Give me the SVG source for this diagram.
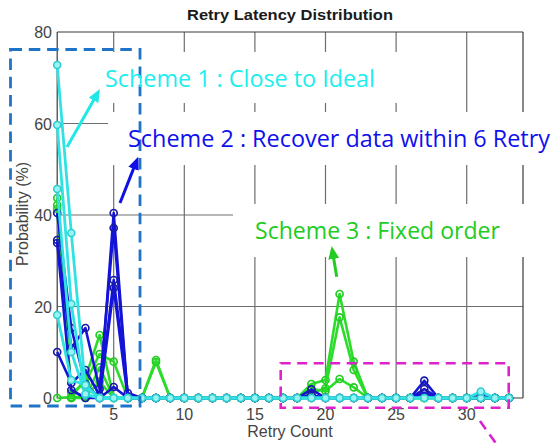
<svg xmlns="http://www.w3.org/2000/svg" width="555" height="444" viewBox="0 0 555 444">
<style>
.grid{stroke:#6e6e6e;stroke-width:1.2;fill:none}
.axis{stroke:#3a3a3a;stroke-width:1.2;fill:none}
.tick{font-family:"Liberation Sans",Arial,sans-serif;font-size:16px;fill:#444}
.ttl{font-family:"Liberation Sans",Arial,sans-serif;font-size:15.5px;font-weight:bold;fill:#1a1a1a}
.c{fill:none;stroke:#30e2e2;stroke-width:2.8;stroke-linejoin:round;marker-start:url(#mc);marker-mid:url(#mc);marker-end:url(#mc)}
.b{fill:none;stroke:#1414d6;stroke-width:2.6;stroke-linejoin:round;marker-start:url(#mb);marker-mid:url(#mb);marker-end:url(#mb)}
.g{fill:none;stroke:#2bdc2b;stroke-width:2.6;stroke-linejoin:round;marker-start:url(#mg);marker-mid:url(#mg);marker-end:url(#mg)}
.lbl{font-family:"Open Sans","Noto Sans",sans-serif;font-size:23px}
.arr{fill:none;stroke-width:3}
</style>
<defs>
<marker id="mc" markerUnits="userSpaceOnUse" viewBox="-5 -5 10 10" markerWidth="10" markerHeight="10" refX="0" refY="0"><circle r="3.5" fill="#9cf3f3" stroke="#2ccfcf" stroke-width="1.6"/></marker>
<marker id="mb" markerUnits="userSpaceOnUse" viewBox="-5 -5 10 10" markerWidth="10" markerHeight="10" refX="0" refY="0"><circle r="3.5" fill="none" stroke="#1a1aa8" stroke-width="1.7"/></marker>
<marker id="mg" markerUnits="userSpaceOnUse" viewBox="-5 -5 10 10" markerWidth="10" markerHeight="10" refX="0" refY="0"><circle r="3.5" fill="none" stroke="#22cc22" stroke-width="1.7"/></marker>
<marker id="ac" markerUnits="userSpaceOnUse" viewBox="0 0 13 11" markerWidth="13" markerHeight="11" refX="9" refY="5.5" orient="auto"><path d="M0,0 L13,5.5 L0,11 z" fill="#1ee8e8"/></marker>
<marker id="ab" markerUnits="userSpaceOnUse" viewBox="0 0 13 11" markerWidth="13" markerHeight="11" refX="9" refY="5.5" orient="auto"><path d="M0,0 L13,5.5 L0,11 z" fill="#1010e6"/></marker>
<marker id="ag" markerUnits="userSpaceOnUse" viewBox="0 0 13 11" markerWidth="13" markerHeight="11" refX="9" refY="5.5" orient="auto"><path d="M0,0 L13,5.5 L0,11 z" fill="#22cc22"/></marker>
</defs>
<rect width="555" height="444" fill="#fff"/>

<g id="axes">
<path class="grid" d="M113.7,32V52M113.7,103V112M113.7,165V398 M184.3,32V52M184.3,103V112M184.3,165V398 M254.9,32V52M254.9,103V112M254.9,165V204M254.9,257V398 M325.5,32V52M325.5,103V112M325.5,165V204M325.5,257V398 M396.1,32V52M396.1,103V112M396.1,165V204M396.1,257V398 M466.7,32V112M466.7,165V204M466.7,257V398 M57.2,123.5H108 M57.2,215H233 M57.2,306.5H523"/>
<path class="axis" d="M523,32V112M523,165V204M523,257V398 M57.2,32H523 M57.2,32V398H523"/>
<text class="ttl" x="290" y="20" text-anchor="middle" textLength="206" lengthAdjust="spacingAndGlyphs">Retry Latency Distribution</text>
<g class="tick" text-anchor="end">
<text x="52" y="38">80</text>
<text x="52" y="129.5">60</text>
<text x="52" y="221">40</text>
<text x="52" y="312.5">20</text>
<text x="52" y="404">0</text>
</g>
<g class="tick" text-anchor="middle">
<text x="113.7" y="420">5</text>
<text x="184.3" y="420">10</text>
<text x="254.9" y="420">15</text>
<text x="325.5" y="420">20</text>
<text x="396.1" y="420">25</text>
<text x="466.7" y="420">30</text>
<text x="290" y="437">Retry Count</text>
<text transform="translate(28,214) rotate(-90)">Probability (%)</text>
</g>
</g>

<g id="series">
<polyline class="g" points="57.2,198 71.3,398 85.4,378 99.6,335 113.7,398 127.8,398 141.9,398 156,360 170.2,398 184.3,398 198.4,398 212.5,398 226.6,398 240.8,398 254.9,398 269,398 283.1,398 297.2,398 311.4,384 325.5,380 339.6,294 353.7,361.7 367.8,398 382,398 396.1,398 410.2,398 424.3,398 438.4,398 452.6,398 466.7,398 480.8,398 494.9,398 509,398"/>
<polyline class="g" points="57.2,205 71.3,393 85.4,383 99.6,354 113.7,361.7 127.8,398 141.9,398 156,398 170.2,398 184.3,398 198.4,398 212.5,398 226.6,398 240.8,398 254.9,398 269,398 283.1,398 297.2,398 311.4,393 325.5,388.3 339.6,317.3 353.7,370 367.8,398 382,398 396.1,398 410.2,398 424.3,398 438.4,398 452.6,398 466.7,398 480.8,398 494.9,398 509,398"/>
<polyline class="g" points="57.2,209 71.3,398 85.4,398 99.6,367.3 113.7,398 127.8,398 141.9,398 156,362 170.2,398 184.3,398 198.4,398 212.5,398 226.6,398 240.8,398 254.9,398 269,398 283.1,398 297.2,398 311.4,389 325.5,391 339.6,379 353.7,387.3 367.8,398 382,398 396.1,398 410.2,398 424.3,398 438.4,398 452.6,398 466.7,398 480.8,398 494.9,398 509,398"/>
<polyline class="g" points="57.2,398 71.3,397 85.4,396.7 99.6,381.7 113.7,398 127.8,398 141.9,398 156,398 170.2,398 184.3,398 198.4,398 212.5,398 226.6,398 240.8,398 254.9,398 269,398 283.1,398 297.2,398 311.4,398 325.5,398 339.6,398 353.7,398 367.8,398 382,398 396.1,398 410.2,398 424.3,398 438.4,398 452.6,398 466.7,398 480.8,398 494.9,398 509,398"/>

<polyline class="b" points="57.2,213 71.3,328 85.4,384 99.6,398 113.7,213 127.8,398 141.9,398 156,398 170.2,398 184.3,398 198.4,398 212.5,398 226.6,398 240.8,398 254.9,398 269,398 283.1,398 297.2,398 311.4,389.3 325.5,398 339.6,398 353.7,398 367.8,398 382,398 396.1,398 410.2,398 424.3,380.7 438.4,398 452.6,398 466.7,398 480.8,398 494.9,398 509,398"/>
<polyline class="b" points="57.2,240 71.3,348 85.4,328 99.6,389 113.7,228 127.8,398 141.9,398 156,398 170.2,398 184.3,398 198.4,398 212.5,398 226.6,398 240.8,398 254.9,398 269,398 283.1,398 297.2,398 311.4,395 325.5,398 339.6,398 353.7,398 367.8,398 382,398 396.1,398 410.2,398 424.3,389 438.4,398 452.6,398 466.7,398 480.8,396 494.9,398 509,398"/>
<polyline class="b" points="57.2,352 71.3,383 85.4,370 99.6,395 113.7,280 127.8,393 141.9,398 156,398 170.2,398 184.3,398 198.4,398 212.5,398 226.6,398 240.8,398 254.9,398 269,398 283.1,398 297.2,398 311.4,398 325.5,398 339.6,398 353.7,398 367.8,398 382,398 396.1,398 410.2,398 424.3,393 438.4,398 452.6,398 466.7,398 480.8,398 494.9,398 509,398"/>
<polyline class="b" points="57.2,243 71.3,390 85.4,398 99.6,398 113.7,288 127.8,398 141.9,398"/>
<polyline class="b" points="99.6,398 113.7,387 127.8,398"/>

<polyline class="c" points="57.2,65 71.3,233 85.4,387 99.6,398 113.7,398 127.8,398 141.9,398 156,398 170.2,398 184.3,398 198.4,398 212.5,398 226.6,398 240.8,398 254.9,398 269,398 283.1,398 297.2,398 311.4,398 325.5,398 339.6,398 353.7,398 367.8,398 382,398 396.1,398 410.2,398 424.3,398 438.4,398 452.6,398 466.7,398 480.8,398 494.9,398 509,398"/>
<polyline class="c" points="57.2,125 71.3,304 85.4,395 99.6,398 113.7,398 127.8,398"/>
<polyline class="c" points="57.2,189 71.3,352 85.4,394 99.6,398 113.7,398 127.8,398"/>
<polyline class="c" points="57.2,315 71.3,380 85.4,385 99.6,398 113.7,398 127.8,398 141.9,398 156,398 170.2,398 184.3,398 198.4,398 212.5,398 226.6,398 240.8,398 254.9,398 269,398 283.1,398 297.2,398 311.4,398 325.5,398 339.6,398 353.7,398 367.8,398 382,398 396.1,398 410.2,398 424.3,398 438.4,398 452.6,398 466.7,398 480.8,391.5 494.9,398 509,398"/>
</g>

<g id="highlights">
<rect id="box-early" x="10.5" y="49.5" width="129.5" height="356.5" fill="none" stroke="#1f74c8" stroke-width="2.8" stroke-dasharray="11.5 6.8"/>
<rect id="box-tail" x="280.7" y="363.3" width="228" height="44.4" fill="none" stroke="#dd22cc" stroke-width="2.6" stroke-dasharray="10 6.5"/>
<line x1="480" y1="421" x2="500" y2="449" stroke="#dd22cc" stroke-width="2.6" stroke-dasharray="10 6.5"/>
</g>

<g id="connectors">
<line class="arr" x1="67" y1="147" x2="98" y2="92.5" stroke="#1ee8e8" marker-end="url(#ac)"/>
<line class="arr" x1="120" y1="203" x2="136.8" y2="160.4" stroke="#1010e6" marker-end="url(#ab)"/>
<line class="arr" x1="336.7" y1="276.7" x2="332.3" y2="250" stroke="#22cc22" marker-end="url(#ag)"/>
</g>

<g id="scheme1"><text class="lbl" x="105" y="87" fill="#1ceeee" textLength="270" lengthAdjust="spacingAndGlyphs">Scheme 1 : Close to Ideal</text></g>
<g id="scheme2"><text class="lbl" x="128" y="147" fill="#1010ee" textLength="422" lengthAdjust="spacingAndGlyphs">Scheme 2 : Recover data within 6 Retry</text></g>
<g id="scheme3"><text class="lbl" x="255" y="239" fill="#22cc22" textLength="245" lengthAdjust="spacingAndGlyphs">Scheme 3 : Fixed order</text></g>
</svg>
